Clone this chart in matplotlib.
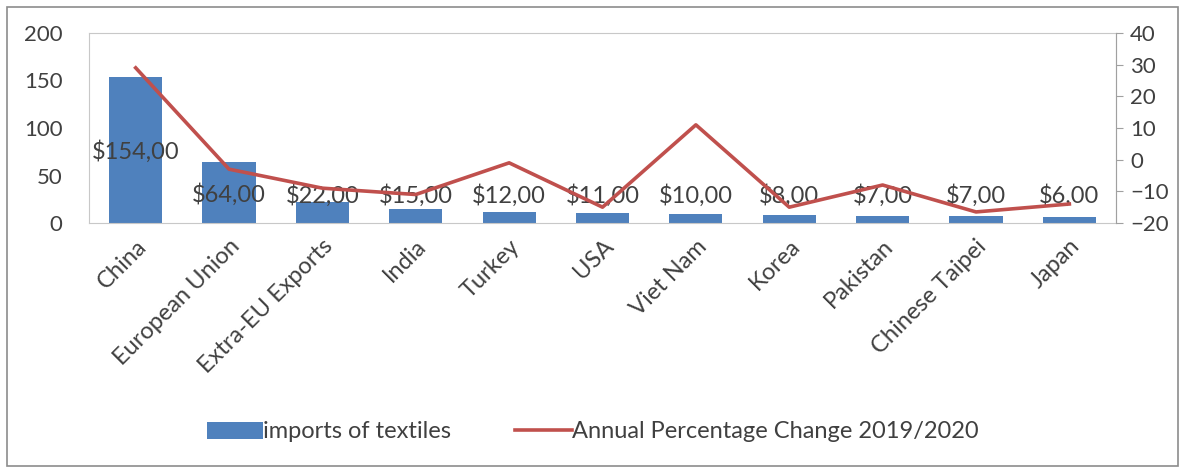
import matplotlib.pyplot as plt
from matplotlib.patches import Rectangle
import numpy as np

# importaciones de textiles y cambio porcentual anual
paises = ["China", "European Union", "Extra-EU Exports", "India", "Turkey", "USA",
          "Viet Nam", "Korea", "Pakistan", "Chinese Taipei", "Japan"]
importaciones = [154, 64, 22, 15, 12, 11, 10, 8, 7, 7, 6]
cambio_anual = [29, -3, -9, -11, -1, -15, 11, -15, -8, -16.5, -14]
etiquetas = ["$%d,00" % v for v in importaciones]

plt.rcParams['font.family'] = ['Lato', 'DejaVu Sans']
gris = "#404040"
azul = "#4F81BD"
rojo = "#C0504D"

fig = plt.figure(figsize=(11.85, 4.7), dpi=100)
fig.patches.append(Rectangle((0.006, 0.008), 0.988, 0.978, transform=fig.transFigure,
                             fill=False, edgecolor="#8c8c8c", linewidth=1.2))
ax = fig.add_axes([0.0751, 0.5255, 0.8667, 0.4043])
x = np.arange(len(paises))

barras = ax.bar(x, importaciones, width=0.57, color=azul, zorder=2)
ax.set_ylim(0, 200)
ax.set_xlim(-0.5, len(paises) - 0.5)
ax.set_yticks([0, 50, 100, 150, 200])
ax.tick_params(axis='y', length=0, labelsize=16, labelcolor=gris, pad=19)
ax.set_xticks(x)
ax.set_xticklabels(paises, rotation=45, ha='right', rotation_mode='anchor',
                   fontsize=17, color=gris)
ax.tick_params(axis='x', length=0, pad=9)
for lado in ["top", "left", "right", "bottom"]:
    ax.spines[lado].set_color("#c8c8c8")

# etiquetas de datos centradas en las barras
for xi, v, t in zip(x, importaciones, etiquetas):
    ax.text(xi, max(v / 2, 31) - 2, t, ha='center', va='center', fontsize=17,
            color=gris, zorder=4)

ax2 = ax.twinx()
ax2.plot(x, cambio_anual, color=rojo, linewidth=2.6, zorder=3)
ax2.set_ylim(-20, 40)
ax2.set_yticks(range(-20, 41, 10))
ax2.tick_params(axis='y', direction='out', length=5, color="#a0a0a0",
                labelsize=16, labelcolor=gris, pad=5)
for lado in ["top", "left", "bottom"]:
    ax2.spines[lado].set_visible(False)
ax2.spines["right"].set_color("#a0a0a0")

fig.legend([barras, ax2.lines[0]],
           ["imports of textiles", "Annual Percentage Change 2019/2020"],
           loc='center', bbox_to_anchor=(0.5, 1 - 432 / 470), ncol=2, frameon=False,
           fontsize=17, labelcolor=gris, handlelength=2.4, handletextpad=0.0,
           columnspacing=2.7)

plt.savefig('out.png')
